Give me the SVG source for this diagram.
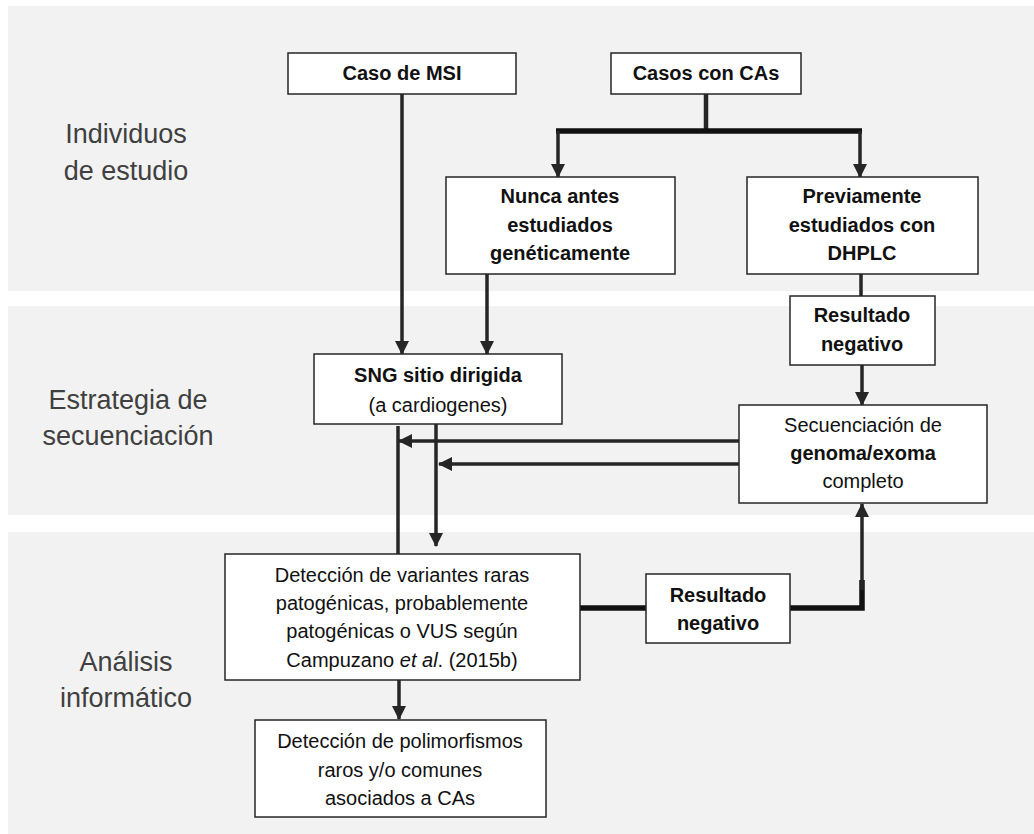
<svg xmlns="http://www.w3.org/2000/svg" width="1034" height="834" viewBox="0 0 1034 834">
<defs>
<marker id="ah" markerUnits="userSpaceOnUse" markerWidth="14" markerHeight="14" refX="13" refY="7" orient="auto">
<path d="M0,0 L14,7 L0,14 z" fill="#262626"/>
</marker>
<style>
.band{fill:#f2f2f2}
.box{fill:#fff;stroke:#262626;stroke-width:1.5}
.t{font-family:"Liberation Sans",Arial,sans-serif;font-size:20px;fill:#111;text-anchor:middle}
.b{font-weight:bold}
.lab{font-family:"Liberation Sans",Arial,sans-serif;font-size:27px;fill:#404040;text-anchor:middle}
.c{fill:none;stroke:#262626;stroke-width:3.5}
.ck{fill:none;stroke:#111;stroke-width:5.5}
</style>
</defs>
<rect width="1034" height="834" fill="#fff"/>
<g id="bands">
<rect class="band" x="8" y="6" width="1026" height="285"/>
<rect class="band" x="8" y="306" width="1026" height="209"/>
<rect class="band" x="8" y="532" width="1026" height="302"/>
</g>
<g id="labels">
<text class="lab" x="126" y="143">Individuos</text>
<text class="lab" x="126" y="180">de estudio</text>
<text class="lab" x="128" y="409">Estrategia de</text>
<text class="lab" x="128" y="445">secuenciación</text>
<text class="lab" x="126" y="671">Análisis</text>
<text class="lab" x="126" y="707">informático</text>
</g>
<g id="connectors">
<line class="c" x1="402" y1="94" x2="402" y2="354" marker-end="url(#ah)"/>
<line class="c" x1="706" y1="94" x2="706" y2="131" style="stroke-width:4.5"/>
<line class="ck" x1="556" y1="131" x2="862" y2="131"/>
<line class="c" x1="558" y1="131" x2="558" y2="177" marker-end="url(#ah)"/>
<line class="c" x1="860" y1="131" x2="860" y2="177" marker-end="url(#ah)"/>
<line class="c" x1="487" y1="274" x2="487" y2="354" marker-end="url(#ah)"/>
<line class="c" x1="861" y1="274" x2="861" y2="296"/>
<line class="c" x1="862" y1="365" x2="862" y2="405" marker-end="url(#ah)"/>
<line class="c" x1="739" y1="441" x2="399" y2="441" marker-end="url(#ah)"/>
<line class="c" x1="739" y1="464" x2="439" y2="464" marker-end="url(#ah)"/>
<line class="c" x1="398" y1="426" x2="398" y2="554"/>
<line class="c" x1="436" y1="424" x2="436" y2="546" marker-end="url(#ah)"/>
<line class="c" x1="399" y1="680" x2="399" y2="719" marker-end="url(#ah)"/>
<line class="ck" x1="580" y1="608" x2="646" y2="608"/>
<polyline class="ck" points="790,608 862,608 862,580"/>
<line class="c" x1="862" y1="590" x2="862" y2="504" marker-end="url(#ah)"/>
</g>
<g id="n-msi">
<rect class="box" x="288" y="53" width="228" height="41"/>
<text class="t b" x="402" y="80">Caso de MSI</text>
</g>
<g id="n-cas">
<rect class="box" x="611" y="53" width="190" height="41"/>
<text class="t b" x="706" y="80">Casos con CAs</text>
</g>
<g id="n-nunca">
<rect class="box" x="446" y="177" width="229" height="97"/>
<text class="t b" x="560" y="203">Nunca antes</text>
<text class="t b" x="560" y="232">estudiados</text>
<text class="t b" x="560" y="260">genéticamente</text>
</g>
<g id="n-prev">
<rect class="box" x="747" y="177" width="231" height="97"/>
<text class="t b" x="862" y="203">Previamente</text>
<text class="t b" x="862" y="232">estudiados con</text>
<text class="t b" x="862" y="260">DHPLC</text>
</g>
<g id="n-res1">
<rect class="box" x="790" y="296" width="145" height="69"/>
<text class="t b" x="862" y="322">Resultado</text>
<text class="t b" x="862" y="351">negativo</text>
</g>
<g id="n-sng">
<rect class="box" x="314" y="354" width="248" height="70"/>
<text class="t b" x="438" y="382">SNG sitio dirigida</text>
<text class="t" x="438" y="412">(a cardiogenes)</text>
</g>
<g id="n-sec">
<rect class="box" x="739" y="405" width="248" height="98"/>
<text class="t" x="863" y="432">Secuenciación de</text>
<text class="t b" x="863" y="460">genoma/exoma</text>
<text class="t" x="863" y="488">completo</text>
</g>
<g id="n-det">
<rect class="box" x="225" y="554" width="355" height="126"/>
<text class="t" x="402" y="582">Detección de variantes raras</text>
<text class="t" x="402" y="610">patogénicas, probablemente</text>
<text class="t" x="402" y="638">patogénicas o VUS según</text>
<text class="t" x="402" y="667">Campuzano <tspan font-style="italic">et al</tspan>. (2015b)</text>
</g>
<g id="n-res2">
<rect class="box" x="646" y="574" width="144" height="69"/>
<text class="t b" x="718" y="602">Resultado</text>
<text class="t b" x="718" y="630">negativo</text>
</g>
<g id="n-pol">
<rect class="box" x="255" y="720" width="291" height="97"/>
<text class="t" x="400" y="748">Detección de polimorfismos</text>
<text class="t" x="400" y="777">raros y/o comunes</text>
<text class="t" x="400" y="805">asociados a CAs</text>
</g>
</svg>
